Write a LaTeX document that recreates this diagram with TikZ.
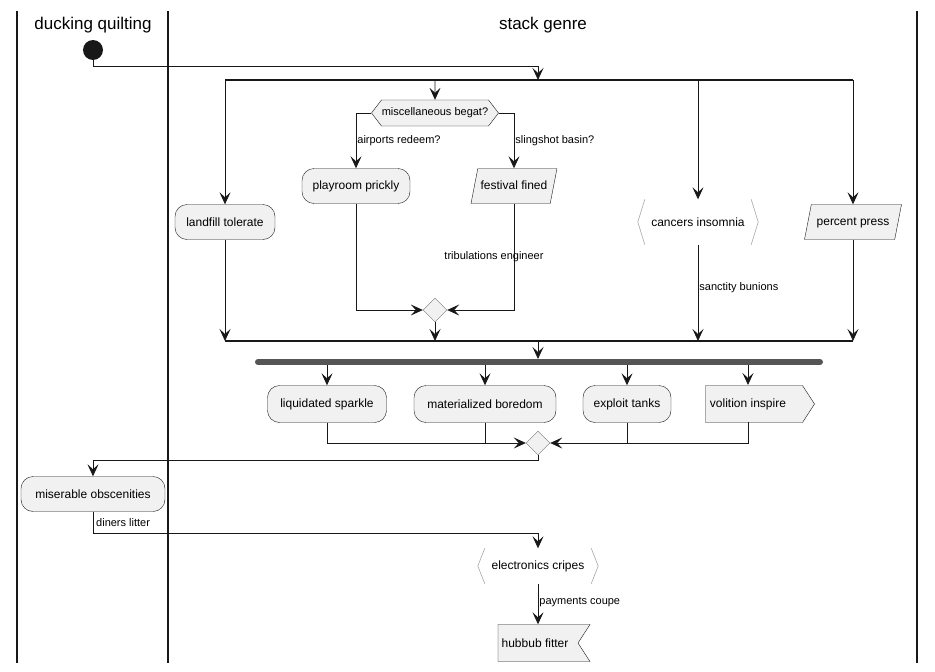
\documentclass[tikz,border=0pt]{standalone}
\usepackage{fontspec}
\setmainfont{Liberation Sans}
\usetikzlibrary{arrows.meta, positioning, shapes.geometric, shapes.symbols}
\definecolor{boxfill}{HTML}{F1F1F1}
\definecolor{ink}{HTML}{181818}
\definecolor{barcol}{HTML}{555555}

\begin{document}
\begin{tikzpicture}[
			x=1pt, y=-1pt,
			every node/.style={font=\fontsize{12}{14}\selectfont, text=black},
			act/.style={draw=ink, fill=boxfill, rectangle, rounded corners=12pt,
				minimum height=35pt, inner sep=0pt},
			para/.style={draw=ink, fill=boxfill, trapezium, trapezium left angle=79,
				trapezium right angle=101, trapezium stretches body=true,
				text height=9pt, text depth=3pt, inner ysep=11.5pt, inner xsep=0pt},
			hexa/.style={draw=ink, fill=boxfill, signal, signal to=west and east,
				signal pointer angle=105, minimum height=26pt, inner sep=0pt,
				font=\fontsize{11}{13}\selectfont},
			sendbox/.style={draw=ink, fill=boxfill, signal, signal from=nowhere,
				signal to=east, signal pointer angle=114, minimum height=37pt, inner sep=0pt},
			recvbox/.style={draw=ink, fill=boxfill, signal, signal from=east,
				signal to=nowhere, signal pointer angle=114, minimum height=37pt, inner sep=0pt},
			brkbox/.style={draw=none, rectangle, inner sep=0pt},
			merge/.style={draw=ink!60, fill=boxfill, diamond, minimum size=24pt, inner sep=0pt},
			brk/.style={draw=gray!70, line width=0.6pt},
			lane/.style={draw=ink, line width=1.3pt},
			arrow/.style={-{Stealth[length=12pt, width=11pt, inset=5pt]}, color=ink, line width=0.8pt},
			line/.style={color=ink, line width=0.8pt},
			edgelabel/.style={font=\fontsize{11}{13}\selectfont, inner sep=1pt}
			]
			\useasboundingbox (0,0) rectangle (935,672);
			
			% -------- Lanes --------
			\draw[lane] (17,11) -- (17,663);
			\draw[lane] (168,11) -- (168,663);
			\draw[lane] (917,11) -- (917,663);
			\node[font=\fontsize{17}{19}\selectfont] (title1) at (93,25) {ducking quilting};
			\node[font=\fontsize{17}{19}\selectfont] (title2) at (543,25) {stack genre};
			
			% -------- Start and first fork --------
			\node[circle, fill=ink, minimum size=20pt, inner sep=0pt] (start) at (93,50) {};
			\coordinate (f1) at (538,80);
			\draw[line, line width=1.4pt] (225,80) -- (853,80);
			\draw[arrow] (start) -- (93,66) -| (f1);
			
			% -------- Branches --------
			\node[hexa, minimum width=127pt] (dec) at (435,113) {miscellaneous begat?};
			\node[act, minimum width=108pt] (play) at (356,186) {playroom prickly};
			\node[para, minimum width=86pt] (fest) at (514,186) {festival fined};
			\node[act, minimum width=100pt] (land) at (225,222) {landfill tolerate};
			\node[brkbox, minimum width=120pt, minimum height=45pt] (canc) at (698,222) {cancers insomnia};
			\node[para, minimum width=97pt] (perc) at (853,222) {percent press};
			\node[merge] (m1) at (435,310) {};
			
			\draw[brk] ([xshift=7pt]canc.north west) -- (canc.west) -- ([xshift=7pt]canc.south west);
			\draw[brk] ([xshift=-7pt]canc.north east) -- (canc.east) -- ([xshift=-7pt]canc.south east);
			
			\draw[arrow] (f1 -| land) -- (land);
			\draw[arrow] (f1 -| dec) -- (dec);
			\draw[arrow] (f1 -| canc) -- (canc);
			\draw[arrow] (f1 -| perc) -- (perc);
			
			\draw[arrow] (dec.west) -| node[edgelabel, pos=0.75, right] {airports redeem?} (play);
			\draw[arrow] (dec.east) -| node[edgelabel, pos=0.75, right] {slingshot basin?} (fest);
			\draw[arrow] (play) |- (m1.west);
			\draw[arrow] (fest) |- node[edgelabel, pos=0.25, xshift=-20pt] {tribulations engineer} (m1.east);
			
			% -------- First join --------
			\coordinate (j1) at (538,341);
			\draw[line, line width=1.4pt] (225,341) -- (853,341);
			\draw[arrow] (land) -- (land |- j1);
			\draw[arrow] (m1) -- (m1 |- j1);
			\draw[arrow] (canc) -- node[edgelabel, right, pos=0.45] {sanctity bunions} (canc |- j1);
			\draw[arrow] (perc) -- (perc |- j1);
			
			% -------- Second fork --------
			\coordinate (f2) at (538,359);
			\coordinate (f2b) at (538,365);
			\draw[barcol, line width=6pt, line cap=round] (258,362) -- (820,362);
			\draw[arrow] (j1) -- (f2);
			
			\node[act, minimum width=119pt, minimum height=37pt] (liq) at (327,404) {liquidated sparkle};
			\node[act, minimum width=142pt, minimum height=37pt] (mat) at (485,404) {materialized boredom};
			\node[act, minimum width=88pt, minimum height=37pt] (expl) at (627,404) {exploit tanks};
			\node[sendbox, minimum width=109pt] (vol) at (754,404) {\hspace{-12pt}volition inspire};
			\node[merge] (m2) at (538,443) {};
			
			\draw[arrow] (f2b -| liq) -- (liq);
			\draw[arrow] (f2b -| mat) -- (mat);
			\draw[arrow] (f2b -| expl) -- (expl);
			\draw[arrow] (f2b -| 748,0) -- (748,385);
			
			\draw[arrow] (liq) |- (m2.west);
			\draw[line] (mat) -- (mat |- m2);
			\draw[line] (expl) -- (expl |- m2);
			\draw[arrow] (748,422) |- (m2.east);
			
			% -------- Lane change --------
			\node[act, minimum width=144pt] (mis) at (93,494) {miserable obscenities};
			\node[brkbox, minimum width=120pt, minimum height=35pt] (elec) at (538,566) {electronics cripes};
			\node[recvbox, minimum width=92pt] (hub) at (538,643) {\hspace{-6pt}hubbub fitter};
			
			\draw[brk] ([xshift=7pt]elec.north west) -- (elec.west) -- ([xshift=7pt]elec.south west);
			\draw[brk] ([xshift=-7pt]elec.north east) -- (elec.east) -- ([xshift=-7pt]elec.south east);
			
			\draw[arrow] (m2) -- (538,460) -| (mis);
			\draw[arrow] (mis) -- (93,533) -| (elec);
			\node[edgelabel, anchor=west] (lbl) at (95,523) {diners litter};
			\draw[arrow] (elec) -- node[edgelabel, right, pos=0.45] {payments coupe} (hub);
			
	\end{tikzpicture}
\end{document}
